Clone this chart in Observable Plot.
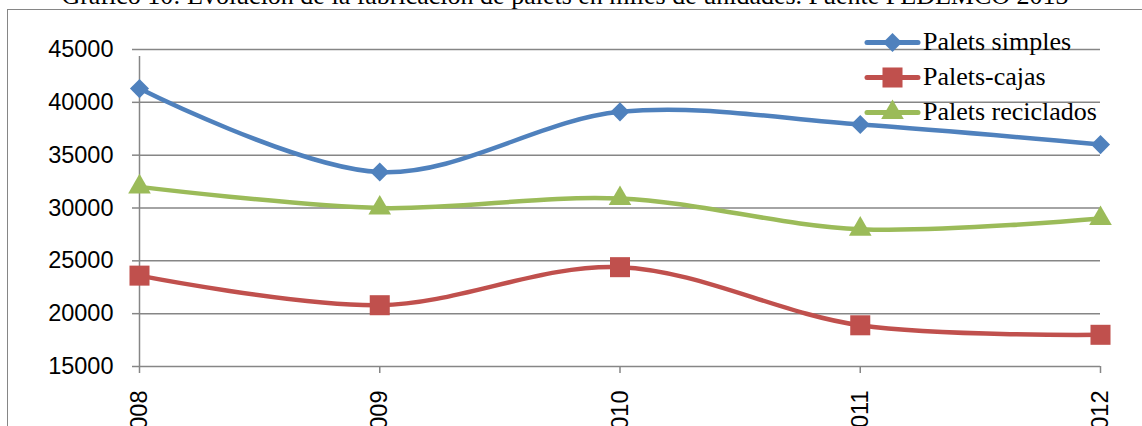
<!DOCTYPE html>
<html><head><meta charset="utf-8">
<script src="https://cdn.jsdelivr.net/npm/d3@7"></script>
<script src="https://cdn.jsdelivr.net/npm/@observablehq/plot@0.6"></script>
<style>
html,body{margin:0;padding:0;background:#fff;overflow:hidden;}
#wrap{position:relative;width:1142px;height:426px;overflow:hidden;}
#frame{position:absolute;left:7px;top:9px;width:1200px;height:500px;border-left:1.5px solid #868686;border-top:1.5px solid #868686;}
#title{position:absolute;left:0;width:1130px;text-align:center;top:-17px;font-family:"Liberation Serif","Times New Roman",serif;font-size:26px;line-height:26px;white-space:nowrap;color:#000;}
#chart{position:absolute;left:0;top:0;}
#legend{position:absolute;left:0;top:0;pointer-events:none;}
</style></head>
<body>
<div id="wrap">
  <div id="frame"></div>
  <div id="title">Gráfico 10: Evolución de la fabricación de palets en miles de unidades. Fuente FEDEMCO 2013</div>
  <div id="chart"></div>
  <svg id="legend" width="1142" height="426"></svg>
</div>
<script>
// ---- data ----
const years = [2008, 2009, 2010, 2011, 2012];
const paletsSimples = [41300, 33400, 39100, 37900, 36000];
const paletsCajas = [23600, 20800, 24400, 18900, 18000];
const paletsReciclados = [32000, 30000, 30900, 28000, 29000];
const seriesNames = ["Palets simples", "Palets-cajas", "Palets reciclados"];
const yTicks = [15000, 20000, 25000, 30000, 35000, 40000, 45000];

// ---- styles ----
const seriesValues = [paletsSimples, paletsCajas, paletsReciclados];
const colors = ["#4F81BD", "#C0504D", "#9BBB59"];
const plotSymbols = ["diamond2", "square", "triangle"];
const d3Symbols = [d3.symbolDiamond2, d3.symbolSquare, d3.symbolTriangle];
const radii = [8.6, 11.3, 8.4];
const gridColor = "#868686";

const tables = seriesValues.map((vals, s) =>
  years.map((yr, i) => ({year: yr, value: vals[i], series: seriesNames[s]})));

const seriesMarks = tables.flatMap((t, s) => [
  Plot.line(t, {x: "year", y: "value", stroke: colors[s], strokeWidth: 4.5, curve: "catmull-rom"}),
  Plot.dot(t, {x: "year", y: "value", symbol: plotSymbols[s], r: radii[s], fill: colors[s], stroke: "none"})
]);

const chart = Plot.plot({
  width: 1142, height: 426,
  marginLeft: 139, marginRight: 42, marginTop: 49, marginBottom: 60,
  style: {fontFamily: '"Liberation Sans", Arial, sans-serif', fontSize: "23.5px", color: "#000", background: "transparent", overflow: "hidden"},
  x: {domain: [years[0], years[years.length - 1]], label: null},
  y: {domain: [yTicks[0], yTicks[yTicks.length - 1]], label: null},
  marks: [
    Plot.gridY(yTicks, {stroke: gridColor, strokeOpacity: 1, strokeWidth: 1.5}),
    Plot.ruleX([years[0]], {y1: yTicks[0], y2: yTicks[yTicks.length - 1], stroke: gridColor, strokeWidth: 1.5, insetBottom: -7}),
    Plot.axisY({ticks: yTicks, tickSize: 7, tickPadding: 19, stroke: gridColor, strokeWidth: 1.5, strokeOpacity: 1, fill: "#000", fontSize: 23.5, tickFormat: d3.format("d"), label: null}),
    Plot.axisX({ticks: years, tickSize: 7, tickPadding: 17, tickRotate: -90, stroke: gridColor, strokeWidth: 1.5, strokeOpacity: 1, fill: "#000", fontSize: 23.5, tickFormat: d3.format("d"), label: null}),
    ...seriesMarks
  ]
});
document.getElementById("chart").appendChild(chart);

// ---- legend ----
const leg = d3.select("#legend");
seriesNames.forEach((name, i) => {
  const base = 50 + i * 35;
  const cy = base - 7.5;
  const g = leg.append("g");
  g.append("line").attr("x1", 867).attr("x2", 918).attr("y1", cy).attr("y2", cy)
    .attr("stroke", colors[i]).attr("stroke-width", 5).attr("stroke-linecap", "round");
  g.append("path").attr("transform", `translate(892.5,${cy})`)
    .attr("d", d3.symbol(d3Symbols[i], radii[i] * radii[i] * Math.PI)())
    .attr("fill", colors[i]);
  g.append("text").attr("x", 923).attr("y", base).text(name)
    .attr("font-family", '"Liberation Serif","Times New Roman",serif').attr("font-size", 26).attr("fill", "#000");
});
</script>
</body></html>
